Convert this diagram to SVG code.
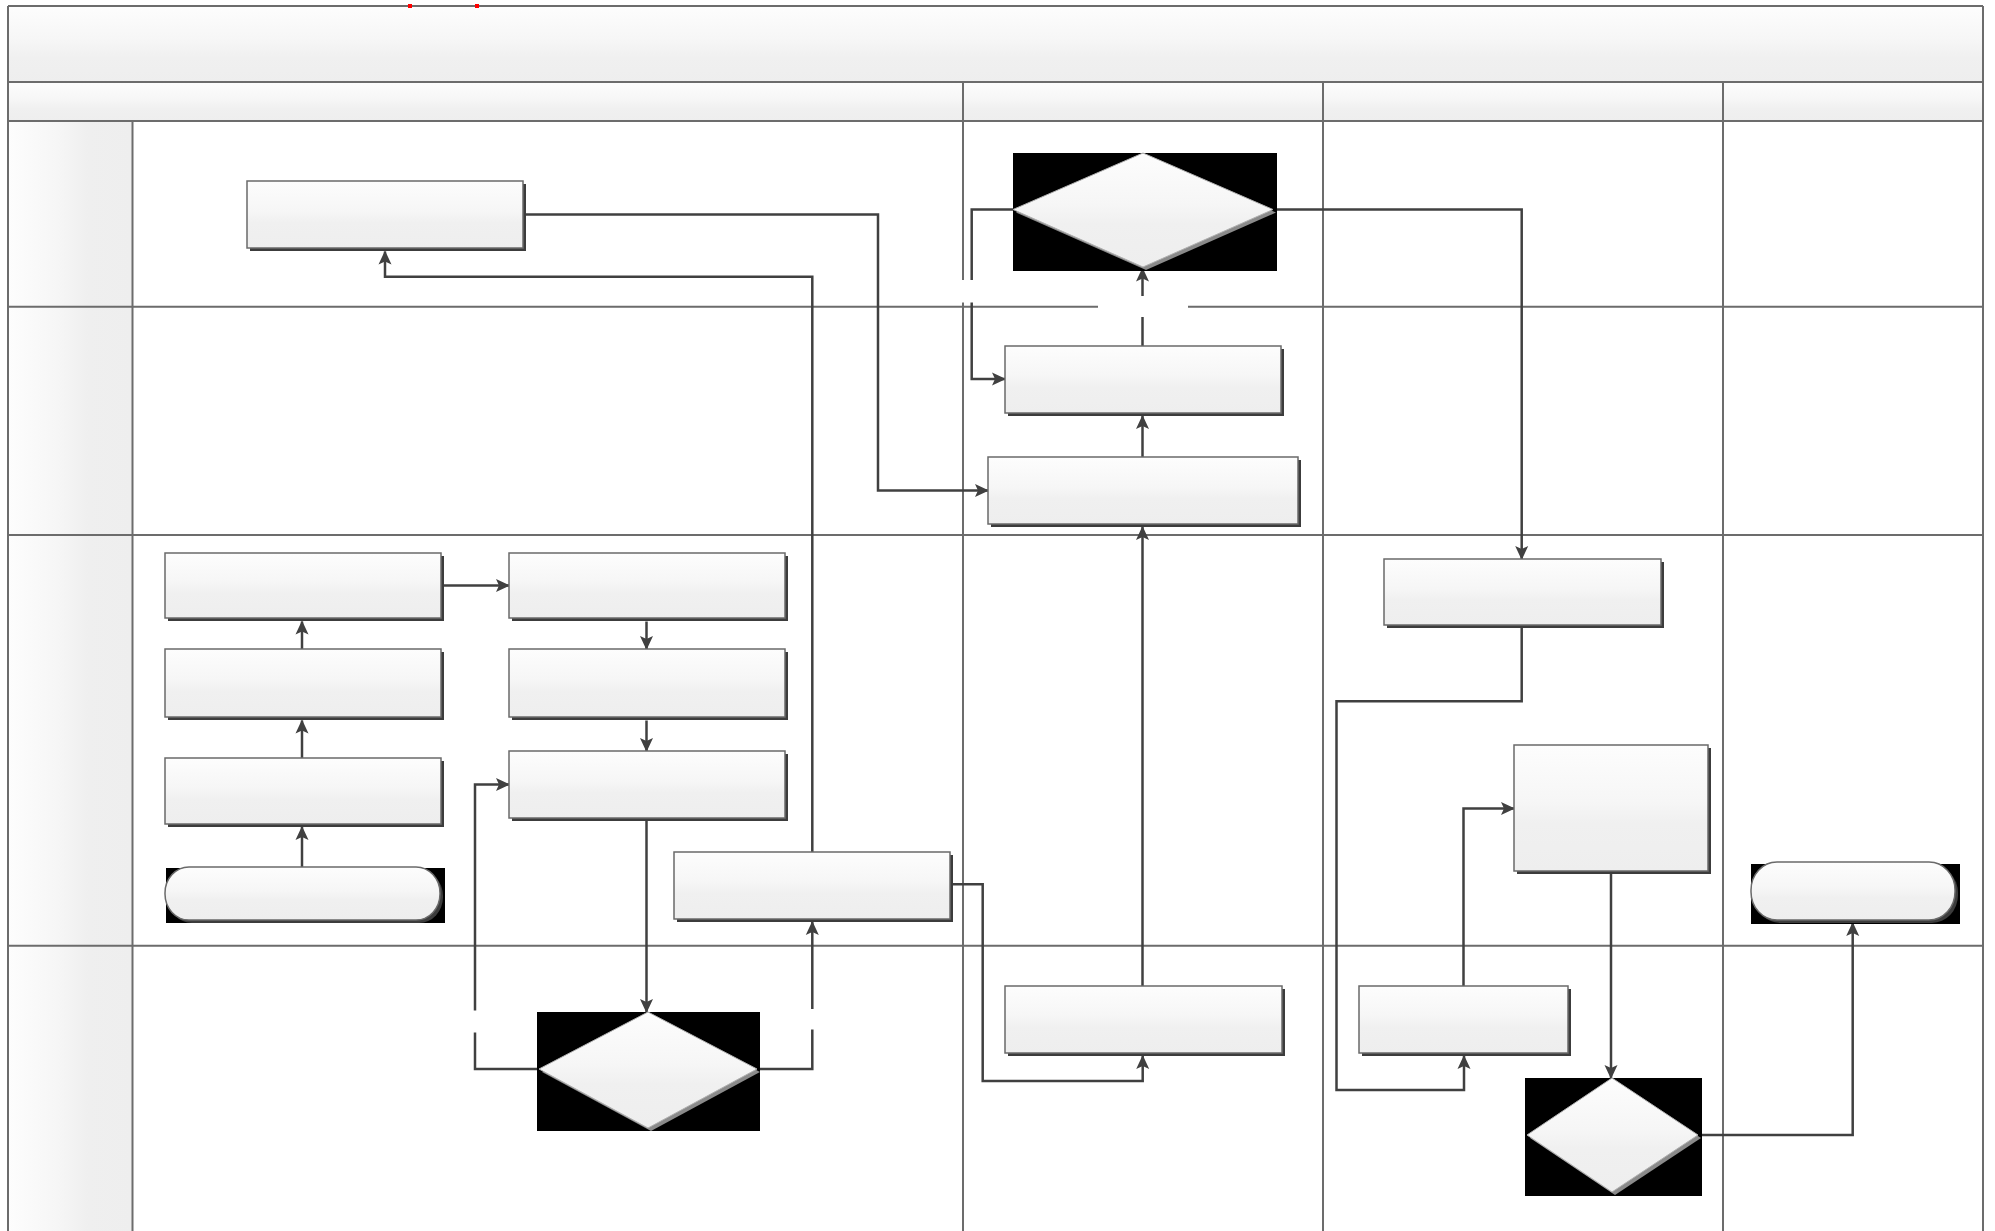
<svg xmlns="http://www.w3.org/2000/svg" width="1995" height="1231" viewBox="0 0 1995 1231">
<defs>
<linearGradient id="gNode" x1="0" y1="0" x2="0" y2="1">
<stop offset="0" stop-color="#fdfdfd"/><stop offset="0.45" stop-color="#f6f6f6"/><stop offset="0.62" stop-color="#f0f0f0"/><stop offset="1" stop-color="#eeeeee"/>
</linearGradient>
<linearGradient id="gBand" x1="0" y1="0" x2="0" y2="1">
<stop offset="0" stop-color="#fdfdfd"/><stop offset="0.45" stop-color="#f6f6f6"/><stop offset="0.68" stop-color="#f0f0f0"/><stop offset="1" stop-color="#eeeeee"/>
</linearGradient>
<linearGradient id="gLane" x1="0" y1="0" x2="1" y2="0">
<stop offset="0" stop-color="#fdfdfd"/><stop offset="0.4" stop-color="#f6f6f6"/><stop offset="0.64" stop-color="#efefef"/><stop offset="1" stop-color="#eeeeee"/>
</linearGradient>
<marker id="arr" viewBox="0 0 14 14" refX="13" refY="7" markerWidth="14" markerHeight="14" markerUnits="userSpaceOnUse" orient="auto">
<path d="M0,0.5 L14,7 L0,13.5 L3,7 Z" fill="#404040"/>
</marker>
<style>
.grid{stroke:#6c6c6c;stroke-width:2;fill:none}
.box{fill:url(#gNode);stroke:#6a6a6a;stroke-width:1.5}
.sh{fill:#3c3c3c}
.dsh{fill:#8a8a8a}
.bg{fill:#000000}
.dia{fill:url(#gNode);stroke:#b0b0b0;stroke-width:1}
.con{fill:none;stroke:#404040;stroke-width:2.5;stroke-linejoin:miter}
.arrow{marker-end:url(#arr)}
.gap{fill:#ffffff}
</style>
</defs>
<rect x="0" y="0" width="1995" height="1231" fill="#ffffff"/>
<g id="pool">
<rect x="8" y="6" width="1975" height="76" fill="url(#gBand)"/>
<rect x="8" y="82" width="1975" height="39" fill="url(#gBand)"/>
<rect x="8" y="121" width="124.5" height="1110" fill="url(#gLane)"/>
<path class="grid" d="M8,6 H1983 M8,82 H1983 M8,121 H1983 M8,306.7 H1983 M8,535 H1983 M8,945.7 H1983 M8,6 V1231 M1983,6 V1231 M132.5,121 V1231 M963,82 V1231 M1323,82 V1231 M1723,82 V1231"/>
<rect x="408" y="4" width="4" height="4" fill="#ff0000"/>
<rect x="475" y="4" width="4" height="4" fill="#ff0000"/>
</g>
<g id="connectors">
<path id="c1" class="con arrow" d="M526,214.5 H878 V490.5 H988"/>
<path id="c2" class="con arrow" d="M1013,209.5 H971.7 V379 H1005"/>
<path id="c3" class="con arrow" d="M1142.5,346 V268.5"/>
<path id="c4" class="con arrow" d="M1142.5,457 V416"/>
<path id="c5" class="con arrow" d="M1142.5,986 V527"/>
<path id="c6" class="con arrow" d="M1273,209.5 H1521.7 V559"/>
<path id="c7" class="con arrow" d="M1521.7,628 V701.3 H1336.5 V1090 H1464 V1056"/>
<path id="c8" class="con arrow" d="M1463.5,986 V808.5 H1514"/>
<path id="c9" class="con arrow" d="M1611,874 V1078"/>
<path id="c10" class="con arrow" d="M1699,1135 H1852.7 V923"/>
<path id="c11" class="con arrow" d="M444,585.5 H509"/>
<path id="c12" class="con arrow" d="M302,867 V827"/>
<path id="c13" class="con arrow" d="M302,758 V720.5"/>
<path id="c14" class="con arrow" d="M302,649 V621.5"/>
<path id="c15" class="con arrow" d="M646.5,621.5 V649"/>
<path id="c16" class="con arrow" d="M646.5,720.5 V751"/>
<path id="c17" class="con arrow" d="M646.5,821 V1012"/>
<path id="c18" class="con arrow" d="M539,1069 H475 V784.5 H509"/>
<path id="c19" class="con arrow" d="M757,1069 H812.3 V922"/>
<path id="c20" class="con arrow" d="M812.3,852 V276.7 H385 V251.5"/>
<path id="c21" class="con arrow" d="M953,884.3 H982.7 V1081 H1142.7 V1056"/>
<rect class="gap" x="956" y="280" width="32" height="22.5"/>
<rect class="gap" x="1098" y="296" width="90" height="21"/>
<rect class="gap" x="465" y="1010.5" width="20" height="22"/>
<rect class="gap" x="802" y="1009" width="20" height="20.5"/>
</g>
<g id="nodeA"><rect class="sh" x="250" y="184" width="276" height="67"/><rect class="box" x="247" y="181" width="276" height="67"/></g>
<g id="nodeD1"><rect class="bg" x="1013" y="153" width="264" height="118"/><polygon class="dsh" points="1146,156 1276,212.5 1146,270 1016,212.5"/><polygon class="dia" points="1143,153 1273,209.5 1143,267 1013,209.5"/></g>
<g id="nodeB"><rect class="sh" x="1008" y="349" width="276" height="67"/><rect class="box" x="1005" y="346" width="276" height="67"/></g>
<g id="nodeC"><rect class="sh" x="991" y="460" width="310" height="67"/><rect class="box" x="988" y="457" width="310" height="67"/></g>
<g id="nodeR1"><rect class="sh" x="168" y="556" width="276" height="65"/><rect class="box" x="165" y="553" width="276" height="65"/></g>
<g id="nodeR2"><rect class="sh" x="168" y="652" width="276" height="68"/><rect class="box" x="165" y="649" width="276" height="68"/></g>
<g id="nodeR3"><rect class="sh" x="168" y="761" width="276" height="66"/><rect class="box" x="165" y="758" width="276" height="66"/></g>
<g id="nodeT1"><rect class="bg" x="166" y="868" width="279" height="55"/><rect class="sh" x="168" y="870" width="275" height="53" rx="24" ry="26"/><rect class="box" x="165" y="867" width="275" height="53" rx="24" ry="26"/></g>
<g id="nodeR4"><rect class="sh" x="512" y="556" width="276" height="65"/><rect class="box" x="509" y="553" width="276" height="65"/></g>
<g id="nodeR5"><rect class="sh" x="512" y="652" width="276" height="68"/><rect class="box" x="509" y="649" width="276" height="68"/></g>
<g id="nodeR6"><rect class="sh" x="512" y="754" width="276" height="67"/><rect class="box" x="509" y="751" width="276" height="67"/></g>
<g id="nodeR7"><rect class="sh" x="677" y="855" width="276" height="67"/><rect class="box" x="674" y="852" width="276" height="67"/></g>
<g id="nodeD2"><rect class="bg" x="537" y="1012" width="223" height="119"/><polygon class="dsh" points="651,1015 760,1072 651,1131 542,1072"/><polygon class="dia" points="648,1012 757,1069 648,1128 539,1069"/></g>
<g id="nodeR8"><rect class="sh" x="1387" y="562" width="277" height="66"/><rect class="box" x="1384" y="559" width="277" height="66"/></g>
<g id="nodeR9"><rect class="sh" x="1517" y="748" width="194" height="126"/><rect class="box" x="1514" y="745" width="194" height="126"/></g>
<g id="nodeR10"><rect class="sh" x="1008" y="989" width="277" height="67"/><rect class="box" x="1005" y="986" width="277" height="67"/></g>
<g id="nodeR11"><rect class="sh" x="1362" y="989" width="209" height="67"/><rect class="box" x="1359" y="986" width="209" height="67"/></g>
<g id="nodeD3"><rect class="bg" x="1525" y="1078" width="177" height="118"/><polygon class="dsh" points="1615,1081 1701,1138 1615,1195 1530,1138"/><polygon class="dia" points="1612,1078 1698,1135 1612,1192 1527,1135"/></g>
<g id="nodeT2"><rect class="bg" x="1751" y="864" width="209" height="60"/><rect class="sh" x="1754" y="865" width="204" height="58" rx="26" ry="28"/><rect class="box" x="1751" y="862" width="204" height="58" rx="26" ry="28"/></g>
</svg>
